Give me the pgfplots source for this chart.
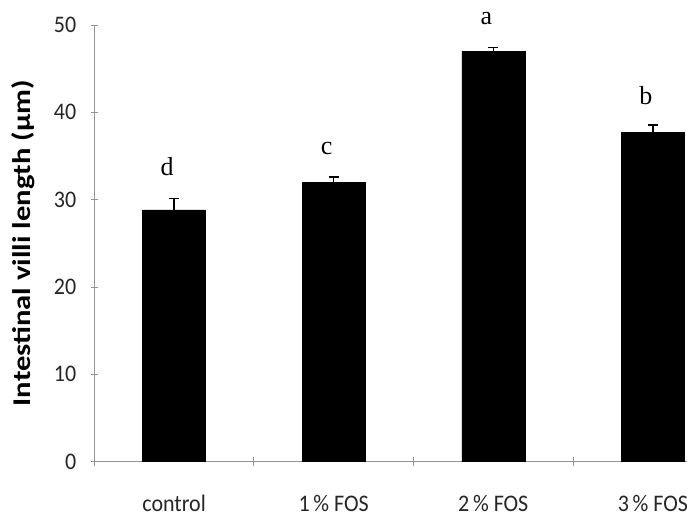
\documentclass[border=0pt]{standalone}
\usepackage{fontspec}
\setmainfont{Liberation Serif}
\newfontfamily\carlito{Carlito}
\usepackage{pgfplots}
\pgfplotsset{compat=1.18}
\newcommand{\vs}[1]{\scalebox{1}[1.08]{#1}}
\begin{document}
\begin{tikzpicture}
\begin{axis}[
  scale only axis,
  width=592.7pt, height=436.7pt,
  xmin=-0.5, xmax=3.2137,
  ymin=0, ymax=50,
  ytick={0,10,20,30,40,50},
  xtick={0,1,2,3},
  xticklabels={\vs{control},\vs{1\,\% FOS},\vs{2\,\% FOS},\vs{3\,\% FOS}},
  minor xtick={-0.5,0.5,1.5,2.5},
  major x tick style={draw=none},
  major tick length=7pt,
  minor tick length=9pt,
  tick align=outside,
  axis x line=bottom, axis y line=left,
  axis line style={-, draw=gray!85, line width=0.9pt},
  tick style={draw=gray!85, line width=0.9pt},
  /pgf/number format/assume math mode=true,
  ticklabel style={font=\carlito\fontsize{22}{24}\selectfont, text=black!85},
  xticklabel style={yshift=-27pt, text height=16pt, text depth=5pt},
  yticklabel={\vs{\pgfmathprintnumber{\tick}}},
  yticklabel style={xshift=-11pt},
  ylabel={\scalebox{1.2}[1]{\carlito\bfseries\fontsize{25.5}{27}\selectfont Intestinal villi length (µm)}},
  ylabel style={at={(axis description cs:0,0.5)}, anchor=center, yshift=71pt},
  clip=false,
]
\addplot[ybar, bar width=63pt, fill=black, draw=black,
  error bars/.cd, y dir=plus, y explicit,
  error mark=-,
  error bar style={line width=1.3pt, black},
  error mark options={rotate=90, mark size=5pt, line width=1.3pt, black}]
  coordinates {
  (0,28.82) +- (0,1.3)
  (1,32.0) +- (0,0.6)
  (2,47.0) +- (0,0.45)
  (3,37.7) +- (0,0.85)
  };
\node[anchor=base, font=\fontsize{26}{28}\selectfont, xshift=-7pt] at (axis cs:0,32.8) {d};
\node[anchor=base, font=\fontsize{26}{28}\selectfont, xshift=-7pt] at (axis cs:1,35.2) {c};
\node[anchor=base, font=\fontsize{26}{28}\selectfont, xshift=-7pt] at (axis cs:2,50.1) {a};
\node[anchor=base, font=\fontsize{26}{28}\selectfont, xshift=-7pt] at (axis cs:3,40.95) {b};
\end{axis}
\pgfresetboundingbox
\path[use as bounding box] ([xshift=-94.3pt,yshift=-57.3pt]current axis.south west) rectangle ([yshift=25pt]current axis.north east);
\end{tikzpicture}
\end{document}
